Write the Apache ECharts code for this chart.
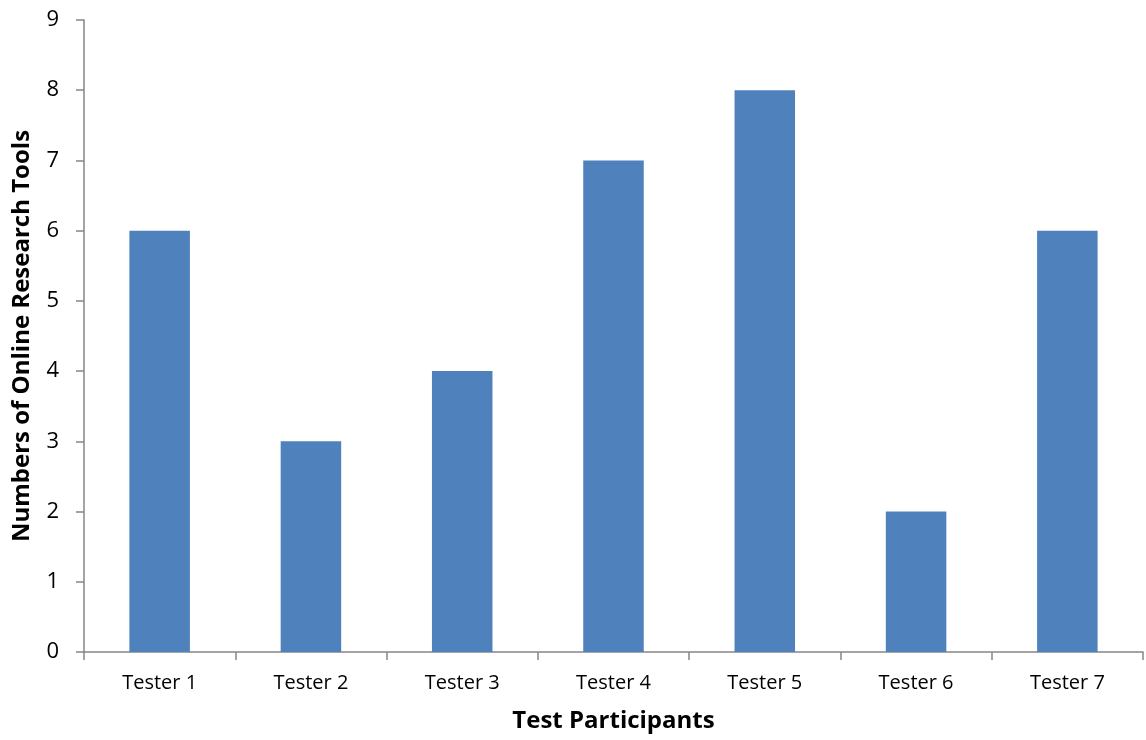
<!DOCTYPE html>
<html><head><meta charset="utf-8">
<script src="https://cdn.jsdelivr.net/npm/echarts@6/dist/echarts.min.js"></script>
<style>html,body{margin:0;padding:0;background:#fff}#c{width:1146px;height:740px}</style>
</head><body><div id="c"></div>
<script>
const categories = ['Tester 1','Tester 2','Tester 3','Tester 4','Tester 5','Tester 6','Tester 7'];
const toolCounts = [6, 3, 4, 7, 8, 2, 6];
const yTicks = [0,1,2,3,4,5,6,7,8,9];

const chart = echarts.init(document.getElementById('c'));
const axisColor = '#868686';
const font = '"Open Sans", "Noto Sans", sans-serif';
chart.setOption({
  animation: false,
  textStyle: {fontFamily: font},
  grid: {left: 84, right: 3, top: 20, bottom: 88, containLabel: false, outerBoundsMode: 'none'},
  xAxis: {
    type: 'category', data: categories,
    name: 'Test Participants', nameLocation: 'middle', nameGap: 57,
    nameTextStyle: {fontSize: 24, fontWeight: 'bold', color: '#000', fontFamily: font},
    axisLine: {lineStyle: {color: axisColor, width: 1.5}},
    axisTick: {show: true, length: 8, alignWithLabel: false, lineStyle: {color: axisColor, width: 1.5}},
    axisLabel: {fontSize: 20, color: '#000', margin: 21, fontFamily: font},
    splitLine: {show: false}
  },
  yAxis: {
    type: 'value', min: 0, max: 9, interval: 1,
    name: 'Numbers of Online Research Tools', nameLocation: 'middle', nameGap: 50,
    nameTextStyle: {fontSize: 24, fontWeight: 'bold', color: '#000', fontFamily: font},
    axisLine: {show: true, lineStyle: {color: axisColor, width: 1.5}},
    axisTick: {show: true, length: 8, lineStyle: {color: axisColor, width: 1.5}},
    axisLabel: {fontSize: 22, color: '#000', margin: 25, fontFamily: font,
      formatter: v => yTicks.includes(v) ? String(v) : ''},
    splitLine: {show: false}
  },
  series: [{
    type: 'bar', data: toolCounts, barCategoryGap: '60%',
    itemStyle: {color: '#4F81BD'}
  }]
});
</script></body></html>
